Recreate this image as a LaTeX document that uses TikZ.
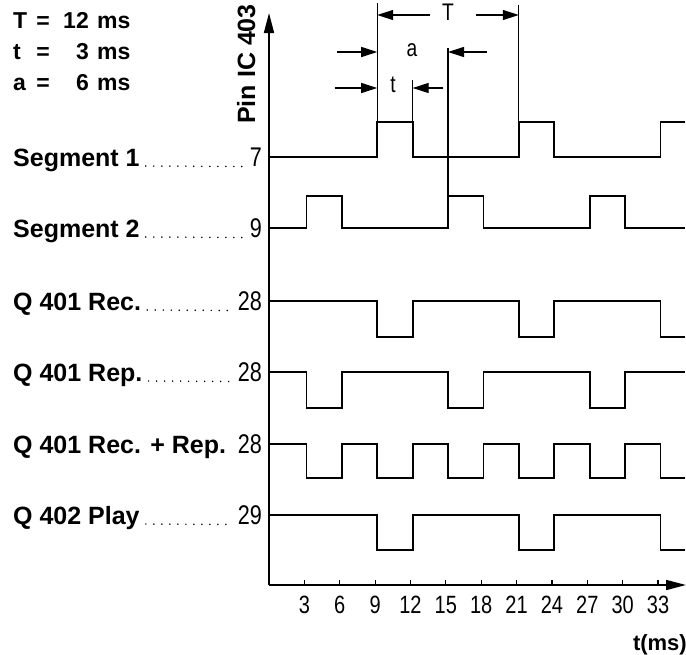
\documentclass[tikz,border=0pt]{standalone}
\usepackage{fontspec}
\setmainfont{Liberation Sans}
\newfontfamily\numfont[FakeStretch=0.8]{Liberation Sans}
\usetikzlibrary{arrows.meta}
\begin{document}
\begin{tikzpicture}[x=1pt,y=-1pt,
  wave/.style={line width=1.8pt, line join=miter},
  extline/.style={line width=1.2pt},
  dimarrow/.style={line width=1.2pt,-{Triangle[length=16pt,width=10pt]}},
  axisarrow/.style={line width=1.6pt,-{Triangle[length=20pt,width=10pt]}},
  lbl/.style={font=\fontsize{25}{28}\selectfont\bfseries, anchor=base west, inner sep=0pt},
  pinnum/.style={font=\fontsize{27}{30}\selectfont\numfont, anchor=base east, inner sep=0pt},
  ticklbl/.style={font=\fontsize{25}{28}\selectfont\numfont, anchor=base, inner sep=0pt},
  dimlbl/.style={font=\fontsize{24}{26}\selectfont\numfont, inner sep=0pt},
  leader/.style={line width=1.7pt, line cap=round, dash pattern=on 0pt off 8pt},
  param/.style={font=\fontsize{23}{28}\selectfont\bfseries, inner sep=0pt}
]
\useasboundingbox (0,0) rectangle (686,654);

% parameter block
\node[param, anchor=base west] (pT) at (13,28) {T};
\node[param, anchor=base] (eT) at (43,28) {=};
\node[param, anchor=base east] (vT) at (89,28) {12};
\node[param, anchor=base west] (uT) at (97,28) {ms};
\node[param, anchor=base west] (pt) at (13,59) {t};
\node[param, anchor=base] (et) at (43,59) {=};
\node[param, anchor=base east] (vt) at (89,59) {3};
\node[param, anchor=base west] (ut) at (97,59) {ms};
\node[param, anchor=base west] (pa) at (13,90) {a};
\node[param, anchor=base] (ea) at (43,90) {=};
\node[param, anchor=base east] (va) at (89,90) {6};
\node[param, anchor=base west] (ua) at (97,90) {ms};

% pin label
\node[font=\fontsize{25}{28}\selectfont\bfseries, rotate=90, anchor=base, inner sep=0pt] (pin) at (255,64) {Pin IC 403};

% axes
\coordinate (O) at (269,585);
\coordinate (ytop) at (269,13);
\coordinate (xend) at (686,585);
\draw[axisarrow] (O) -- (ytop);
\draw[axisarrow] (O) -- (xend);

\begin{scope}[x=11.79pt, xshift=269pt]
  \foreach \k in {3,6,...,33} {
    \coordinate (tk\k) at (\k,585);
    \draw[line width=1.2pt] (\k,580) -- (tk\k);
    \node[ticklbl] (tl\k) at (\k,613) {\k};
  }
\end{scope}
\node[font=\fontsize{22}{26}\selectfont\bfseries, anchor=base east, inner sep=0pt] (tunit) at (687,650) {t(ms)};

% row labels
\foreach \name/\txt/\num/\yy/\lead in {
  s1/Segment 1/7/157/1,
  s2/Segment 2/9/228/1,
  rec/Q 401 Rec./28/301/1,
  rep/Q 401 Rep./28/372/1,
  rr/Q 401 Rec. + Rep./28/444/0,
  play/Q 402 Play/29/515/1} {
  \node[lbl] (L\name) at (13,\yy+9) {\txt};
  \node[pinnum] (N\name) at (262,\yy+9.5) {\num};
  \ifnum\lead=1
    \draw[leader] ([xshift=6pt]L\name.base east) -- ([xshift=-4pt]N\name.base west);
  \fi
}

% waveforms
\begin{scope}[x=11.8pt, xshift=271pt]
  \def\E{35.1}
  % Segment 1
  \draw[wave] (-0.15,157) -- (9,157) -- (9,122) -- (12,122) -- (12,157) -- (21,157) -- (21,122) -- (24,122) -- (24,157) -- (33,157) -- (33,122) -- (\E,122);
  % Segment 2
  \draw[wave] (-0.15,228) -- (3,228) -- (3,196) -- (6,196) -- (6,228) -- (15,228) -- (15,196) -- (18,196) -- (18,228) -- (27,228) -- (27,196) -- (30,196) -- (30,228) -- (\E,228);
  % Q401 Rec
  \draw[wave] (-0.15,301) -- (9,301) -- (9,337) -- (12,337) -- (12,301) -- (21,301) -- (21,337) -- (24,337) -- (24,301) -- (33,301) -- (33,337) -- (\E,337);
  % Q401 Rep
  \draw[wave] (-0.15,372) -- (3,372) -- (3,408) -- (6,408) -- (6,372) -- (15,372) -- (15,408) -- (18,408) -- (18,372) -- (27,372) -- (27,408) -- (30,408) -- (30,372) -- (\E,372);
  % Q401 Rec + Rep
  \draw[wave] (-0.15,444) -- (3,444) -- (3,478) -- (6,478) -- (6,444) -- (9,444) -- (9,478) -- (12,478) -- (12,444) -- (15,444) -- (15,478) -- (18,478) -- (18,444) -- (21,444) -- (21,478) -- (24,478) -- (24,444) -- (27,444) -- (27,478) -- (30,478) -- (30,444) -- (33,444) -- (33,478) -- (\E,478);
  % Q402 Play
  \draw[wave] (-0.15,515) -- (9,515) -- (9,550) -- (12,550) -- (12,515) -- (21,515) -- (21,550) -- (24,550) -- (24,515) -- (33,515) -- (33,550) -- (\E,550);

  % extension lines
  \coordinate (e9a) at (9,122);  \coordinate (e9b) at (9,3);
  \coordinate (e21a) at (21,122); \coordinate (e21b) at (21,5);
  \coordinate (e12a) at (12,122); \coordinate (e12b) at (12,80);
  \coordinate (e15a) at (15,196); \coordinate (e15b) at (15,48);
  \draw[extline] (e9a) -- (e9b);
  \draw[extline] (e21a) -- (e21b);
  \draw[extline] (e12a) -- (e12b);
  \draw[extline] (e15a) -- (e15b);

  % T
  \node[dimlbl] (dT) at (15.0,12) {T};
  \coordinate (T1) at (13.5,15); \coordinate (T1t) at (9,15);
  \coordinate (T2) at (17.4,15); \coordinate (T2t) at (21,15);
  \draw[dimarrow] (T1) -- (T1t);
  \draw[dimarrow] (T2) -- (T2t);
  % a
  \node[dimlbl] (da) at (11.95,50) {a};
  \coordinate (A1) at (5.6,52); \coordinate (A1t) at (9,52);
  \coordinate (A2) at (18.3,52); \coordinate (A2t) at (15,52);
  \draw[dimarrow] (A1) -- (A1t);
  \draw[dimarrow] (A2) -- (A2t);
  % t
  \node[dimlbl] (dt) at (10.35,85) {t};
  \coordinate (B1) at (5.4,88); \coordinate (B1t) at (9,88);
  \coordinate (B2) at (14.6,88); \coordinate (B2t) at (12,88);
  \draw[dimarrow] (B1) -- (B1t);
  \draw[dimarrow] (B2) -- (B2t);
\end{scope}
\end{tikzpicture}
\end{document}
